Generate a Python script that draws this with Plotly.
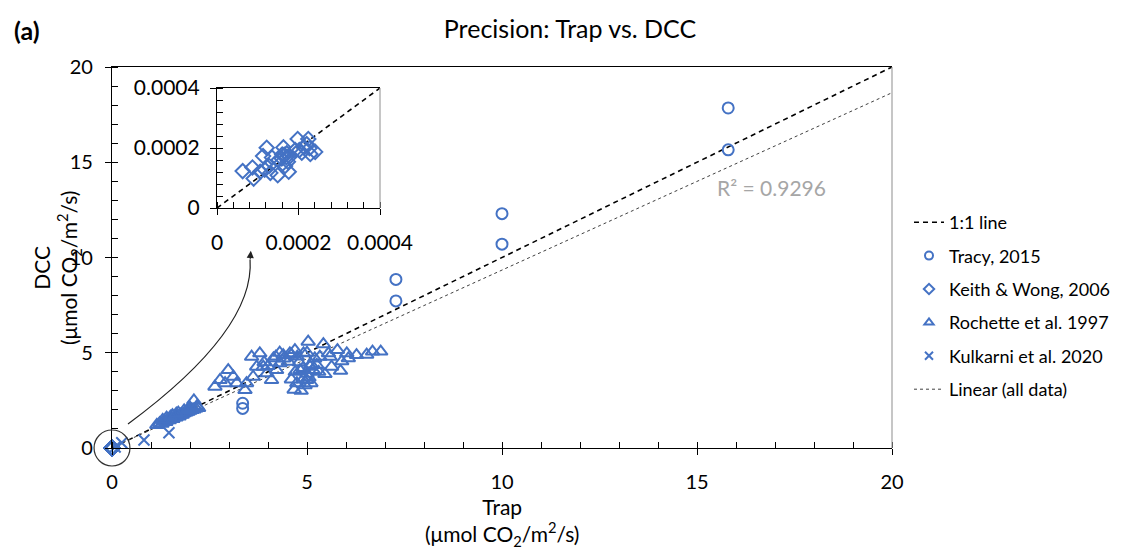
import plotly.graph_objects as go

# ---------------- data ----------------
tracy_x = [15.8, 15.8, 10.0, 10.0, 7.28, 7.28, 3.35, 3.35]
tracy_y = [17.85, 15.65, 12.3, 10.7, 8.85, 7.72, 2.35, 2.08]

keith_x = [0.000063, 0.000087, 0.000090, 0.000106, 0.000113, 0.000122, 0.000117,
           0.000128, 0.000135, 0.000131, 0.000149, 0.000151, 0.000159, 0.000163,
           0.000165, 0.000170, 0.000171, 0.000174, 0.000176, 0.000178, 0.000167,
           0.000198, 0.000202, 0.000208, 0.000214, 0.000220, 0.000224, 0.000227,
           0.000229, 0.000241, 0.000192, 0.000160]
keith_y = [0.000123, 0.000135, 0.000098, 0.000121, 0.000173, 0.000201, 0.000128,
           0.000140, 0.000168, 0.000117, 0.000109, 0.000160, 0.000165, 0.000202,
           0.000177, 0.000169, 0.000182, 0.000154, 0.000121, 0.000171, 0.000140,
           0.000230, 0.000193, 0.000184, 0.000202, 0.000213, 0.000230, 0.000199,
           0.000180, 0.000187, 0.000193, 0.000178]

roch_x = [6.89, 6.68, 6.53, 6.27, 6.02, 5.89, 5.86, 5.78, 5.63, 5.55, 5.46, 5.42,
          5.33, 5.25, 5.08, 5.03, 4.99, 4.91, 4.82, 4.74, 4.67, 4.69, 4.56, 4.52,
          4.39, 4.31, 4.22, 4.14, 4.09, 3.97, 3.88, 3.79, 3.71, 3.62, 3.58, 3.45,
          3.41, 3.20, 3.11, 2.98, 2.90, 2.64, 2.77,
          4.80, 4.90, 5.00, 5.10, 4.95, 5.05, 4.85, 5.15, 4.70, 4.60, 5.20, 4.75,
          5.00, 4.60, 4.40, 4.30, 4.20, 4.00, 3.90, 5.30, 5.10, 4.90, 6.06, 5.59,
          1.15, 1.22, 1.28, 1.33, 1.38, 1.42, 1.47, 1.52, 1.56, 1.60, 1.64, 1.68,
          1.72, 1.76, 1.80, 1.85, 1.90, 1.95, 2.00, 2.05, 2.10, 2.15, 2.22, 2.10,
          1.40, 1.55, 1.70, 1.85, 2.00, 1.30, 1.50, 1.65, 1.95, 2.18]
roch_y = [5.06, 5.06, 4.90, 4.88, 4.97, 4.55, 4.05, 5.14, 4.27, 4.97, 3.88, 5.45,
          4.79, 4.36, 4.27, 5.58, 3.57, 4.97, 4.09, 3.40, 3.06, 5.14, 4.97, 4.53,
          4.88, 4.45, 4.09, 4.71, 3.57, 3.92, 4.27, 4.97, 4.27, 3.74, 4.79, 3.40,
          3.04, 3.40, 3.74, 4.09, 3.40, 3.22, 3.57,
          4.50, 4.20, 3.90, 4.40, 3.30, 3.70, 3.00, 4.10, 4.00, 3.60, 4.70, 4.80,
          5.00, 4.90, 4.70, 5.00, 4.80, 4.30, 4.50, 4.00, 3.40, 3.60, 4.71, 4.79,
          1.21, 1.30, 1.27, 1.40, 1.36, 1.50, 1.46, 1.55, 1.52, 1.62, 1.60, 1.68,
          1.66, 1.75, 1.74, 1.82, 1.86, 1.90, 1.95, 2.00, 2.02, 2.08, 2.10, 2.50,
          1.60, 1.72, 1.85, 1.98, 2.12, 1.48, 1.65, 1.80, 2.05, 2.20]

kulk_x = [0.25, 0.82, 1.46, 0.08]
kulk_y = [0.28, 0.42, 0.80, 0.05]

one_x = [0, 20]
one_y = [0, 20]
inset_one_x = [0, 0.0004]
inset_one_y = [0, 0.0004]
trend_x = [0, 20]
trend_y = [0.03, 18.65]

main_range = [0, 20]
inset_range = [0, 0.0004]
inset_tickvals = [0, 0.0002, 0.0004]
inset_ticktext = ["0", "0.0002", "0.0004"]

legend_names = ["1:1 line", "Tracy, 2015", "Keith & Wong, 2006",
                "Rochette et al. 1997", "Kulkarni et al. 2020", "Linear (all data)"]

BLUE = "#4472C4"
FONT = "Lato"

# page offset introduced by the HTML body margin
OX, OY = 8, 8
# target plot box in page pixels
P_LEFT, P_RIGHT, P_TOP, P_BOTTOM = 112, 892, 67, 448
W, H = 1140 - OX, 551 - OY
L, T = P_LEFT - OX, P_TOP - OY
PW, PH = P_RIGHT - P_LEFT, P_BOTTOM - P_TOP
R, B = W - L - PW, H - T - PH


def paper_x(px):
    return (px - P_LEFT) / PW


def paper_y(py):
    return (P_BOTTOM - py) / PH


fig = go.Figure()


def mk(symbol, size):
    return dict(symbol=symbol, size=size, color=BLUE, line=dict(width=2, color=BLUE))


# main-plot traces (not in legend; legend uses compact proxies below)
fig.add_trace(go.Scatter(x=one_x, y=one_y, mode="lines", showlegend=False,
                         line=dict(color="black", width=1.6, dash="5px,4px")))
fig.add_trace(go.Scatter(x=trend_x, y=trend_y, mode="lines", showlegend=False,
                         line=dict(color="#404040", width=1, dash="dot")))
fig.add_trace(go.Scatter(x=roch_x, y=roch_y, mode="markers", showlegend=False,
                         marker=mk("triangle-up-open", 12)))
fig.add_trace(go.Scatter(x=tracy_x, y=tracy_y, mode="markers", showlegend=False,
                         marker=mk("circle-open", 11)))
fig.add_trace(go.Scatter(x=keith_x, y=keith_y, mode="markers", showlegend=False,
                         marker=mk("diamond-open", 11), cliponaxis=False))
fig.add_trace(go.Scatter(x=kulk_x, y=kulk_y, mode="markers", showlegend=False,
                         marker=mk("x-thin-open", 11), cliponaxis=False))

# legend proxies
fig.add_trace(go.Scatter(x=[None], y=[None], mode="lines", name=legend_names[0],
                         line=dict(color="black", width=1.6, dash="5px,4px"),
                         legendgroup="a"))
fig.add_trace(go.Scatter(x=[None], y=[None], mode="markers", name=legend_names[1],
                         marker=mk("circle-open", 8), legendgroup="b"))
fig.add_trace(go.Scatter(x=[None], y=[None], mode="markers", name=legend_names[2],
                         marker=mk("diamond-open", 8), legendgroup="c"))
fig.add_trace(go.Scatter(x=[None], y=[None], mode="markers", name=legend_names[3],
                         marker=mk("triangle-up-open", 8), legendgroup="d"))
fig.add_trace(go.Scatter(x=[None], y=[None], mode="markers", name=legend_names[4],
                         marker=mk("x-thin-open", 8), legendgroup="e"))
fig.add_trace(go.Scatter(x=[None], y=[None], mode="lines", name=legend_names[5],
                         line=dict(color="#404040", width=1, dash="dot"),
                         legendgroup="f"))

# inset traces
fig.add_trace(go.Scatter(x=inset_one_x, y=inset_one_y, mode="lines", showlegend=False,
                         line=dict(color="black", width=1.6, dash="5px,4px"),
                         xaxis="x2", yaxis="y2"))
fig.add_trace(go.Scatter(x=keith_x, y=keith_y, mode="markers", showlegend=False,
                         marker=mk("diamond-open", 11), xaxis="x2", yaxis="y2"))

# invisible traces for crossing-tick overlay axes
fig.add_trace(go.Scatter(x=[None], y=[None], showlegend=False, xaxis="x3", yaxis="y3",
                         hoverinfo="skip"))
fig.add_trace(go.Scatter(x=[None], y=[None], showlegend=False, xaxis="x4", yaxis="y4",
                         hoverinfo="skip"))

tickfont = dict(family=FONT, size=20, color="black")
tickfont_in = dict(family=FONT, size=21, color="black")

common_main = dict(range=main_range, showgrid=False, zeroline=False, showline=True,
                   linecolor="black", linewidth=1.2, ticks="outside", ticklen=6,
                   tickcolor="black", dtick=5, tick0=0, tickfont=tickfont,
                   automargin=False,
                   minor=dict(ticks="inside", dtick=1, ticklen=6, tickcolor="black"))

inset_dom_x = [paper_x(217), paper_x(380)]
inset_dom_y = [paper_y(208), paper_y(88)]

common_inset = dict(range=inset_range, showgrid=False, zeroline=False, showline=True,
                    linecolor="black", linewidth=1.2, ticks="outside", ticklen=6,
                    tickcolor="black", tickmode="array", tickvals=inset_tickvals,
                    ticktext=inset_ticktext, tickfont=tickfont_in, automargin=False,
                    minor=dict(ticks="inside", dtick=0.00004, tick0=0, ticklen=6,
                               tickcolor="black"))

overlay_main = dict(range=main_range, showgrid=False, zeroline=False, showline=False,
                    ticks="inside", ticklen=6, tickcolor="black", dtick=5, tick0=0,
                    showticklabels=False, automargin=False)
overlay_inset = dict(range=inset_range, showgrid=False, zeroline=False, showline=False,
                     ticks="inside", ticklen=6, tickcolor="black", tickmode="array",
                     tickvals=inset_tickvals, showticklabels=False, automargin=False)

fig.update_layout(
    width=W, height=H,
    paper_bgcolor="white", plot_bgcolor="rgba(0,0,0,0)",
    margin=dict(l=L, r=R, t=T, b=B, autoexpand=False),
    font=dict(family=FONT, size=20, color="black"),
    title=dict(text="Precision: Trap vs. DCC", x=(570 - OX) / W, xref="container",
               xanchor="center", y=1 - 21 / H, yref="container", yanchor="middle",
               font=dict(family=FONT, size=25, color="black")),
    xaxis=dict(**common_main, mirror=True, ticklabelstandoff=10),
    yaxis=dict(**common_main, ticklabelstandoff=8),
    xaxis2=dict(**common_inset, domain=inset_dom_x, anchor="y2", mirror=True,
                ticklabelstandoff=10),
    yaxis2=dict(**common_inset, domain=inset_dom_y, anchor="x2", ticklabelstandoff=6),
    xaxis3=dict(**overlay_main, overlaying="x", anchor="y3"),
    yaxis3=dict(**overlay_main, overlaying="y", anchor="x3"),
    xaxis4=dict(**overlay_inset, overlaying="x2", anchor="y4"),
    yaxis4=dict(**overlay_inset, overlaying="y2", anchor="x4"),
    legend=dict(x=paper_x(909), xanchor="left", y=paper_y(204), yanchor="top",
                font=dict(family=FONT, size=18, color="black"),
                bgcolor="rgba(0,0,0,0)", tracegroupgap=7, itemwidth=30),
    showlegend=True,
)

# axis titles as annotations (precise placement)
fig.add_annotation(text="Trap<br>(μmol CO<sub>2</sub>/m<sup>2</sup>/s)",
                   xref="paper", yref="paper", x=0.5, y=paper_y(522),
                   showarrow=False, xanchor="center", yanchor="middle",
                   font=dict(family=FONT, size=21, color="black"))
fig.add_annotation(text="DCC<br>(μmol CO<sub>2</sub>/m<sup>2</sup>/s)",
                   xref="paper", yref="paper", x=paper_x(57), y=paper_y(268),
                   showarrow=False, xanchor="center", yanchor="middle", textangle=-90,
                   font=dict(family=FONT, size=21, color="black"))

# right-hand gray frame lines (main and inset)
fig.add_shape(type="line", xref="x domain", yref="y domain", x0=1, x1=1, y0=0, y1=1,
              line=dict(color="#A0A0A0", width=1.2))
fig.add_shape(type="line", xref="x2 domain", yref="y2 domain", x0=1, x1=1, y0=0, y1=1,
              line=dict(color="#A0A0A0", width=1.2))

# circle around the origin (radius in data units, converted to paper fraction)
r_x, r_y = 0.46, 0.945
span = main_range[1] - main_range[0]
fig.add_shape(type="circle", xref="paper", yref="paper",
              x0=-r_x / span, x1=r_x / span, y0=-r_y / span, y1=r_y / span,
              line=dict(color="#333333", width=1.2))

# curved arrow from the origin circle to the inset
fig.add_shape(type="path", xref="x", yref="y",
              path="M 0.41,1.26 Q 3.67,6.19 3.54,9.9",
              line=dict(color="#222222", width=1.2))
fig.add_annotation(x=3.56, y=10.35, ax=3.54, ay=9.85, xref="x", yref="y",
                   axref="x", ayref="y", text="", showarrow=True, arrowhead=2,
                   arrowsize=1.2, arrowwidth=1.2, arrowcolor="#222222")

# R^2 label
fig.add_annotation(x=15.45, y=13.7, xref="x", yref="y", text="R² = 0.9296",
                   showarrow=False, xanchor="left", yanchor="middle",
                   font=dict(family=FONT, size=21, color="#A6A6A6"))

# panel label
fig.add_annotation(x=paper_x(12), y=paper_y(30), xref="paper", yref="paper",
                   text="<b>(a)</b>", showarrow=False, xanchor="left", yanchor="middle",
                   font=dict(family=FONT, size=25, color="black"))

fig.write_html("out.html")
